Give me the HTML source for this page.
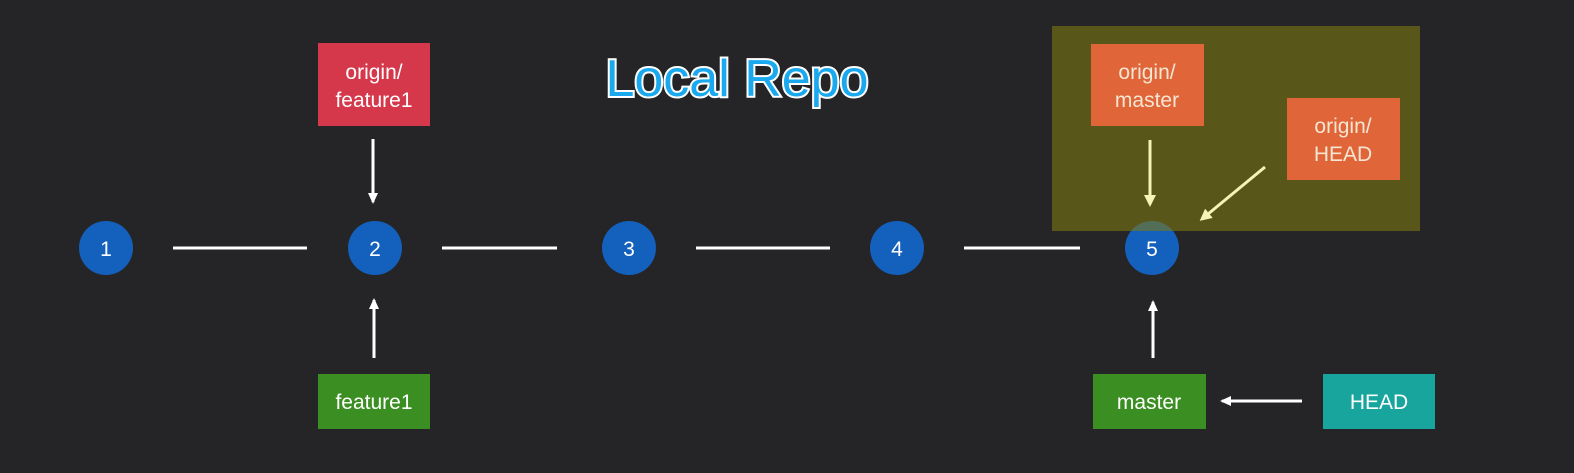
<!DOCTYPE html>
<html><head><style>
body{margin:0;background:#252527;width:1574px;height:468px;overflow:hidden;font-family:"Liberation Sans",sans-serif;}
</style></head><body>
<svg width="1574" height="468" xmlns="http://www.w3.org/2000/svg" font-family="Liberation Sans, sans-serif">
<defs>
<marker id="a" markerWidth="12" markerHeight="12" refX="9" refY="6" orient="auto" markerUnits="userSpaceOnUse"><path d="M0,1 L11,6 L0,11 Z" fill="#fff"/></marker>
<marker id="y" markerWidth="12" markerHeight="12" refX="9" refY="6" orient="auto" markerUnits="userSpaceOnUse"><path d="M0,0 L12,6 L0,12 Z" fill="#f6f3b8"/></marker>
</defs>
<rect width="1574" height="468" fill="#252527"/>
<g stroke="#fff" stroke-width="3">
<line x1="173" y1="248" x2="307" y2="248"/><line x1="442" y1="248" x2="557" y2="248"/>
<line x1="696" y1="248" x2="830" y2="248"/><line x1="964" y1="248" x2="1080" y2="248"/>
</g>
<g fill="#1460bd">
<circle cx="106" cy="248" r="27"/><circle cx="375" cy="248" r="27"/><circle cx="629" cy="248" r="27"/><circle cx="897" cy="248" r="27"/><circle cx="1152" cy="248" r="27"/>
</g>
<g fill="#fff" font-size="21" text-anchor="middle">
<text x="106" y="256">1</text><text x="375" y="256">2</text><text x="629" y="256">3</text><text x="897" y="256">4</text><text x="1152" y="256">5</text>
</g>
<rect x="1052" y="26" width="368" height="205" fill="#7d7810" opacity="0.6"/>
<text x="737" y="96" font-size="52" text-anchor="middle" fill="#1aa9ee" stroke="#fff" stroke-width="4" paint-order="stroke">Local Repo</text>
<rect x="318" y="43" width="112" height="83" fill="#d5384a"/>
<rect x="318" y="374" width="112" height="55" fill="#3a8e22"/>
<rect x="1091" y="44" width="113" height="82" fill="#e0663a"/>
<rect x="1287" y="98" width="113" height="82" fill="#e0663a"/>
<rect x="1093" y="374" width="113" height="55" fill="#3a8e22"/>
<rect x="1323" y="374" width="112" height="55" fill="#17a59e"/>
<g fill="#fff" font-size="21" text-anchor="middle">
<text x="374" y="79">origin/</text><text x="374" y="107">feature1</text>
<text x="374" y="409">feature1</text>
<text fill="#f4e6d2" x="1147" y="79">origin/</text><text fill="#f4e6d2" x="1147" y="107">master</text>
<text fill="#f4e6d2" x="1343" y="133">origin/</text><text fill="#f4e6d2" x="1343" y="161">HEAD</text>
<text x="1149" y="409">master</text>
<text x="1379" y="409">HEAD</text>
</g>
<g stroke="#fff" stroke-width="3">
<line x1="373" y1="139" x2="373" y2="202" marker-end="url(#a)"/>
<line x1="374" y1="358" x2="374" y2="300" marker-end="url(#a)"/>
<line x1="1153" y1="358" x2="1153" y2="302" marker-end="url(#a)"/>
<line x1="1302" y1="401" x2="1222" y2="401" marker-end="url(#a)"/>
</g>
<g stroke="#f6f3b8" stroke-width="3">
<line x1="1150" y1="140" x2="1150" y2="204" marker-end="url(#y)"/>
<line x1="1265" y1="167" x2="1202" y2="219" marker-end="url(#y)"/>
</g>
</svg>
</body></html>
